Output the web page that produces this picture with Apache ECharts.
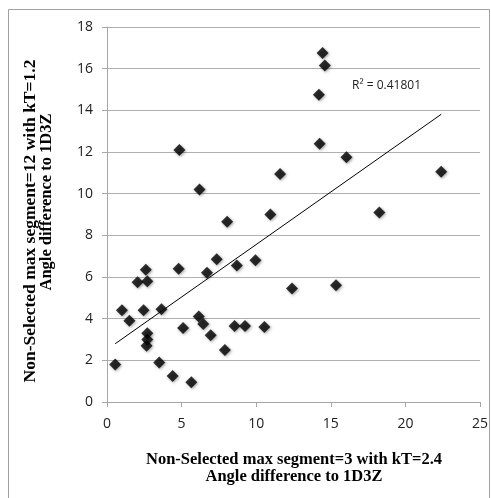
<!DOCTYPE html>
<html>
<head>
<meta charset="utf-8">
<script src="https://cdn.jsdelivr.net/npm/echarts@6/dist/echarts.min.js"></script>
<style>
html,body{margin:0;padding:0;background:#fff;}
#chart{width:491px;height:498px;}
</style>
</head>
<body>
<div id="chart"></div>
<script>
// Data
var xValues = [0.55, 1.0, 1.5, 2.05, 2.6, 2.7, 2.45, 2.7, 2.7, 2.65,
  3.65, 3.5, 4.4, 4.8, 4.85, 5.1, 5.65, 6.15, 6.45, 6.95,
  6.2, 6.7, 7.35, 8.05, 8.7, 9.95, 7.9, 8.55, 9.25, 10.55,
  10.95, 11.6, 12.4, 14.2, 14.45, 14.6, 14.25, 16.05, 15.35, 18.25, 22.4];
var yValues = [1.8, 4.4, 3.9, 5.75, 6.35, 5.8, 4.4, 3.3, 3.0, 2.7,
  4.45, 1.9, 1.25, 6.4, 12.1, 3.55, 0.95, 4.1, 3.75, 3.2,
  10.2, 6.2, 6.85, 8.65, 6.55, 6.8, 2.5, 3.65, 3.65, 3.6,
  9.0, 10.95, 5.45, 14.75, 16.75, 16.15, 12.4, 11.75, 5.6, 9.1, 11.05];
var xTicks = [0, 5, 10, 15, 20, 25];
var yTicks = [0, 2, 4, 6, 8, 10, 12, 14, 16, 18];
var rSquaredLabel = 'R² = 0.41801';
var xTitleLines = ['Non-Selected max segment=3 with kT=2.4', 'Angle difference to 1D3Z'];
var yTitleLines = ['Non-Selected max segment=12 with kT=1.2', 'Angle difference to 1D3Z'];

var points = xValues.map(function (x, i) { return [x, yValues[i]]; });

// Linear least squares trendline
var n = xValues.length, sx = 0, sy = 0, sxx = 0, sxy = 0;
for (var i = 0; i < n; i++) {
  sx += xValues[i]; sy += yValues[i];
  sxx += xValues[i] * xValues[i]; sxy += xValues[i] * yValues[i];
}
var slope = (n * sxy - sx * sy) / (n * sxx - sx * sx);
var intercept = (sy - slope * sx) / n;
var xMin = Math.min.apply(null, xValues), xMax = Math.max.apply(null, xValues);
var trend = [[xMin, intercept + slope * xMin], [xMax, intercept + slope * xMax]];

var chart = echarts.init(document.getElementById('chart'), null, {renderer: 'canvas'});
var tickFont = {fontFamily: 'Open Sans', fontSize: 14, color: '#222'};
var titleFont = 'bold 16.5px "Liberation Serif"';

chart.setOption({
  animation: false,
  backgroundColor: '#fff',
  grid: {left: 107, right: 10, top: 27, bottom: 96, containLabel: false},
  xAxis: {
    type: 'value', min: xTicks[0], max: xTicks[xTicks.length - 1], interval: 5,
    axisLine: {show: true, lineStyle: {color: '#a6a6a6', width: 1}},
    axisTick: {show: true, length: 5, inside: false, lineStyle: {color: '#a6a6a6'}},
    axisLabel: Object.assign({margin: 15}, tickFont),
    splitLine: {show: false}
  },
  yAxis: {
    type: 'value', min: yTicks[0], max: yTicks[yTicks.length - 1], interval: 2,
    axisLine: {show: true, lineStyle: {color: '#a6a6a6', width: 1}},
    axisTick: {show: true, length: 5, inside: false, lineStyle: {color: '#a6a6a6'}},
    axisLabel: Object.assign({margin: 14}, tickFont),
    splitLine: {show: true, lineStyle: {color: '#b0b0b0', width: 1}}
  },
  series: [
    {
      type: 'scatter', data: points, symbol: 'diamond', symbolSize: 12,
      itemStyle: {color: '#000', shadowBlur: 3, shadowColor: 'rgba(0,0,0,0.45)', shadowOffsetX: 1, shadowOffsetY: 1},
      z: 3
    },
    {
      type: 'line', data: trend, symbol: 'none', silent: true,
      lineStyle: {color: '#000', width: 1}, z: 2
    }
  ],
  graphic: [
    {type: 'rect', shape: {x: 8.5, y: 9.5, width: 481, height: 520}, style: {fill: 'none', stroke: '#a0a0a0', lineWidth: 1}, silent: true},
    {type: 'text', x: 352, y: 86, style: {text: rSquaredLabel, font: '12px "Open Sans"', fill: '#222', textVerticalAlign: 'middle'}},
    {type: 'text', x: 294, y: 460, style: {text: xTitleLines[0], font: titleFont, fill: '#000', textAlign: 'center', textVerticalAlign: 'middle'}},
    {type: 'text', x: 294, y: 477, style: {text: xTitleLines[1], font: titleFont, fill: '#000', textAlign: 'center', textVerticalAlign: 'middle'}},
    {type: 'text', x: 30, y: 221, rotation: Math.PI / 2, style: {text: yTitleLines[0], font: 'bold 17.5px "Liberation Serif"', fill: '#000', textAlign: 'center', textVerticalAlign: 'middle'}},
    {type: 'text', x: 47, y: 202, rotation: Math.PI / 2, style: {text: yTitleLines[1], font: titleFont, fill: '#000', textAlign: 'center', textVerticalAlign: 'middle'}}
  ]
});
</script>
</body>
</html>
